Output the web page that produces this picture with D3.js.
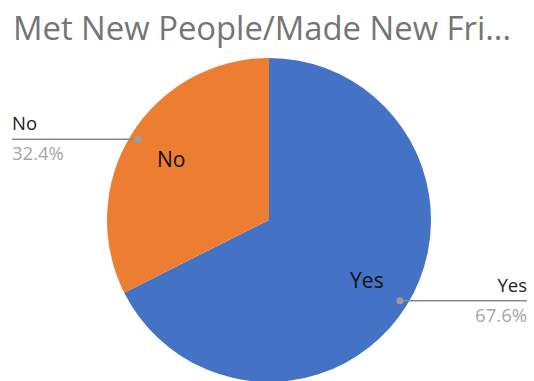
<!DOCTYPE html>
<html><head><meta charset="utf-8">
<script src="https://cdn.jsdelivr.net/npm/d3@7"></script>
<style>body{margin:0;background:#fff}svg{display:block}text{font-family:"Open Sans",sans-serif}</style>
</head><body><svg id="c" width="534" height="381"></svg>
<script>
const title = "Met New People/Made New Fri...";
const categories = ["Yes", "No"];
const values = [67.6, 32.4];
const colors = ["#4472C4", "#ED7D31"];

const svg = d3.select("#c");
const cx = 269, cy = 220, r = 162;

svg.append("text").attr("x", 13).attr("y", 40).attr("font-size", 32.8).attr("fill", "#757575").text(title);

const data = categories.map((c, i) => ({cat: c, value: values[i], color: colors[i]}));
const pie = d3.pie().sort(null).value(d => d.value);
const arcs = pie(data);
const arc = d3.arc().innerRadius(0).outerRadius(r);
const g = svg.append("g").attr("transform", `translate(${cx},${cy})`);
g.selectAll("path").data(arcs).join("path").attr("d", arc).attr("fill", d => d.data.color);

// inside labels
g.selectAll("text.in").data(arcs).join("text")
  .attr("class", "in")
  .attr("x", d => { const a = (d.startAngle + d.endAngle) / 2; return Math.sin(a) * r * 0.71; })
  .attr("y", d => { const a = (d.startAngle + d.endAngle) / 2; return -Math.cos(a) * r * 0.71; })
  .attr("dy", "0.35em").attr("text-anchor", "middle").attr("font-size", 21).attr("fill", "#111")
  .text(d => d.data.cat);

// outside callouts
const fmt = v => v.toFixed(1) + "%";
arcs.forEach(d => {
  const a = (d.startAngle + d.endAngle) / 2;
  const px = cx + Math.sin(a) * r * 0.95, py = cy - Math.cos(a) * r * 0.95;
  const right = Math.sin(a) > 0;
  const x2 = right ? 527 : 12;
  svg.append("line").attr("x1", px).attr("y1", py).attr("x2", x2).attr("y2", py)
    .attr("stroke", "#8a8a8a").attr("stroke-width", 1.5);
  svg.append("circle").attr("cx", px).attr("cy", py).attr("r", 3.5).attr("fill", "#9e9e9e");
  svg.append("text").attr("x", x2).attr("y", py - 9).attr("text-anchor", right ? "end" : "start")
    .attr("font-size", 18.5).attr("fill", "#222").text(d.data.cat);
  svg.append("text").attr("x", x2).attr("y", py + 21).attr("text-anchor", right ? "end" : "start")
    .attr("font-size", 18.5).attr("fill", "#a6a6a6").text(fmt(d.data.value));
});
</script></body></html>
